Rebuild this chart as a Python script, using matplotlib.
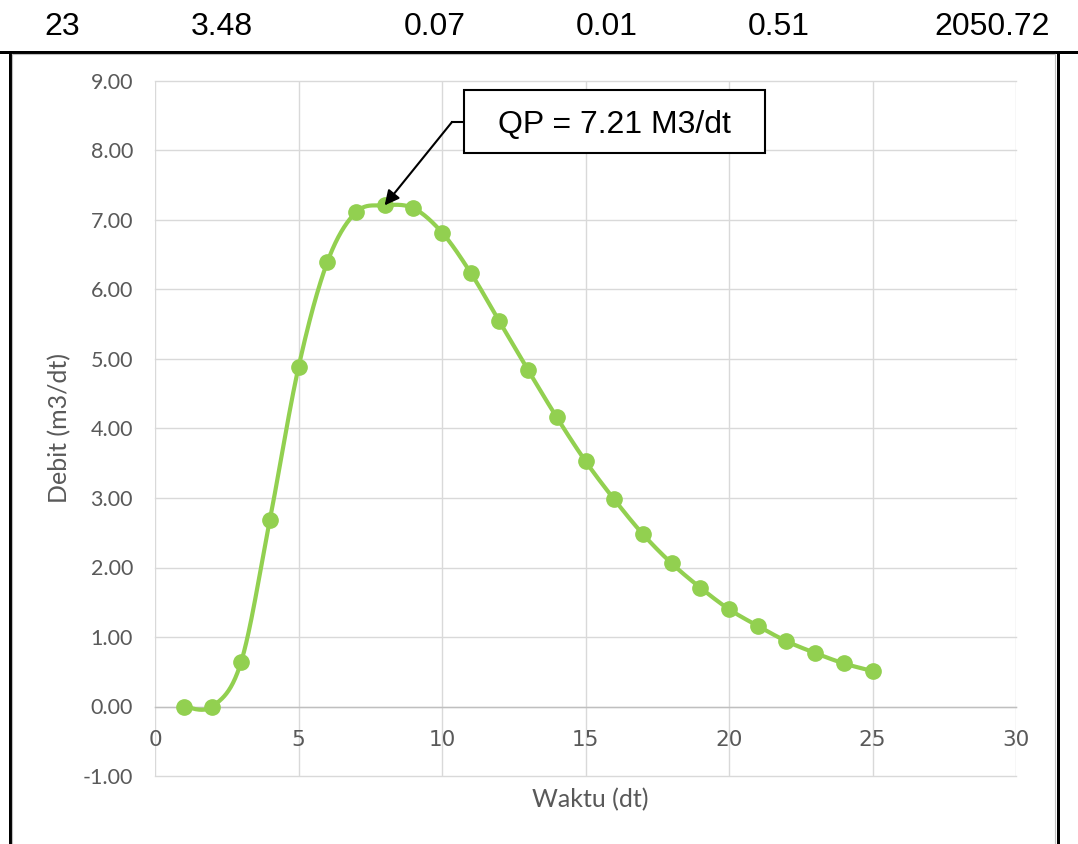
import numpy as np
import matplotlib
matplotlib.use("Agg")
import matplotlib.pyplot as plt
from matplotlib.lines import Line2D
from matplotlib.patches import Rectangle

# ---- data -------------------------------------------------------------
table_row = ["23", "3.48", "0.07", "0.01", "0.51", "2050.72"]

waktu = list(range(1, 26))
debit = [0.00, 0.00, 0.64, 2.68, 4.88, 6.39, 7.11, 7.21, 7.17, 6.82,
         6.24, 5.54, 4.84, 4.16, 3.53, 2.98, 2.48, 2.06, 1.71, 1.40,
         1.16, 0.94, 0.77, 0.62, 0.51]
peak_index = 7  # QP at t = 8

x_ticks = [0, 5, 10, 15, 20, 25, 30]
y_ticks = [-1, 0, 1, 2, 3, 4, 5, 6, 7, 8, 9]

# ---- layout helpers (pixel -> figure fraction) ------------------------
W, H = 1078, 844
def fx(px):
    return px / W
def fy(py):
    return 1 - py / H

GREEN = "#92D050"
GRID = "#d9d9d9"
TXT = "#595959"
TICK_FONT = ["Lato", "DejaVu Sans"]
ARIAL = ["Liberation Sans", "DejaVu Sans"]


def smooth_curve(x, y, n=40):
    """Catmull-Rom style smoothing (Bezier with 1/6 control offsets)."""
    p = np.column_stack([x, y]).astype(float)
    pts = np.vstack([p[0], p, p[-1]])
    t = np.linspace(0, 1, n)[:, None]
    out = []
    for i in range(1, len(pts) - 2):
        p0, p1, p2, p3 = pts[i - 1], pts[i], pts[i + 1], pts[i + 2]
        c1 = p1 + (p2 - p0) / 6.0
        c2 = p2 - (p3 - p1) / 6.0
        seg = ((1 - t) ** 3) * p1 + 3 * ((1 - t) ** 2) * t * c1 \
            + 3 * (1 - t) * t ** 2 * c2 + t ** 3 * p2
        out.append(seg if i == 1 else seg[1:])
    seg = np.vstack(out)
    return seg[:, 0], seg[:, 1]


fig = plt.figure(figsize=(W / 100, H / 100), dpi=100)
fig.patch.set_facecolor("white")

# ---- table row and frame around the chart -----------------------------
row_centers = [62, 222, 435, 607, 779, 992]
for txt, cx in zip(table_row, row_centers):
    fig.text(fx(cx), fy(35), txt, ha="center", va="baseline",
             fontsize=23, family=ARIAL, color="black")

frame_lw = 3 * 0.72
fig.add_artist(Line2D([0, 1], [fy(51.5), fy(51.5)], transform=fig.transFigure,
                      color="black", lw=frame_lw))
fig.add_artist(Line2D([fx(9.5), fx(9.5)], [fy(51.5), 0], transform=fig.transFigure,
                      color="black", lw=frame_lw))
fig.add_artist(Line2D([fx(1057.5), fx(1057.5)], [fy(51.5), 0], transform=fig.transFigure,
                      color="black", lw=frame_lw))
# chart-area border
for xs_, ys_ in [([fx(12), fx(12)], [fy(53.5), 0]),
                 ([fx(1055), fx(1055)], [fy(53.5), 0]),
                 ([fx(12), fx(1055)], [fy(53.5), fy(53.5)])]:
    fig.add_artist(Line2D(xs_, ys_, transform=fig.transFigure,
                          color="#bfbfbf", lw=0.8))

# ---- plot area ---------------------------------------------------------
ax = fig.add_axes([fx(155), fy(776), (1016 - 155) / W, (776 - 81) / H])
ax.set_xlim(0, 30)
ax.set_ylim(-1, 9)
ax.set_xticks(x_ticks)
ax.set_yticks(y_ticks)
ax.set_xticklabels([str(v) for v in x_ticks])
ax.set_yticklabels([f"{v:.2f}" for v in y_ticks])
for lab in ax.get_xticklabels() + ax.get_yticklabels():
    lab.set_family(TICK_FONT)
ax.tick_params(axis="both", length=0, labelsize=15.5, labelcolor=TXT)
ax.tick_params(axis="y", pad=15.8)
ax.tick_params(axis="x", pad=17.0)

ax.grid(True, color=GRID, lw=1.0)
ax.set_axisbelow(True)
for gl in ax.get_xgridlines() + ax.get_ygridlines():
    gl.set_clip_on(False)

for side in ("top", "right", "left"):
    ax.spines[side].set_visible(False)
ax.spines["bottom"].set_position(("data", 0))
ax.spines["bottom"].set_color("#bfbfbf")
ax.spines["bottom"].set_linewidth(1.0)

sx, sy = smooth_curve(waktu, debit)
ax.plot(sx, sy, color=GREEN, lw=3.0, solid_capstyle="round", zorder=3)
ax.plot(waktu, debit, "o", color=GREEN, ms=11, mec=GREEN, zorder=4)

# axis titles
fig.text(fx(590), fy(800), "Waktu (dt)", ha="center", va="center",
         fontsize=18, family=TICK_FONT, color=TXT)
fig.text(fx(60), fy(428), "Debit (m3/dt)", ha="center", va="center",
         rotation=90, fontsize=18, family=TICK_FONT, color=TXT)

# ---- peak callout -----------------------------------------------------
qp = debit[peak_index]
fig.add_artist(Rectangle((fx(464), fy(153)), (765 - 464) / W, (153 - 90) / H,
                         transform=fig.transFigure, facecolor="white",
                         edgecolor="black", lw=1.5, zorder=5))
fig.text(fx(614.5), fy(133), f"QP = {qp:.2f} M3/dt", ha="center", va="baseline",
         fontsize=23, family=ARIAL, color="black", zorder=6)
fig.add_artist(Line2D([fx(452), fx(464)], [fy(122), fy(122)],
                      transform=fig.transFigure, color="black", lw=1.5))
ax.annotate("", xy=(waktu[peak_index], qp), xycoords="data",
            xytext=(fx(452), fy(122)), textcoords="figure fraction",
            arrowprops=dict(arrowstyle="-|>", color="black", lw=1.5,
                            mutation_scale=22, shrinkA=0, shrinkB=0),
            zorder=6, annotation_clip=False)

fig.savefig("out.png", dpi=100, facecolor="white")
